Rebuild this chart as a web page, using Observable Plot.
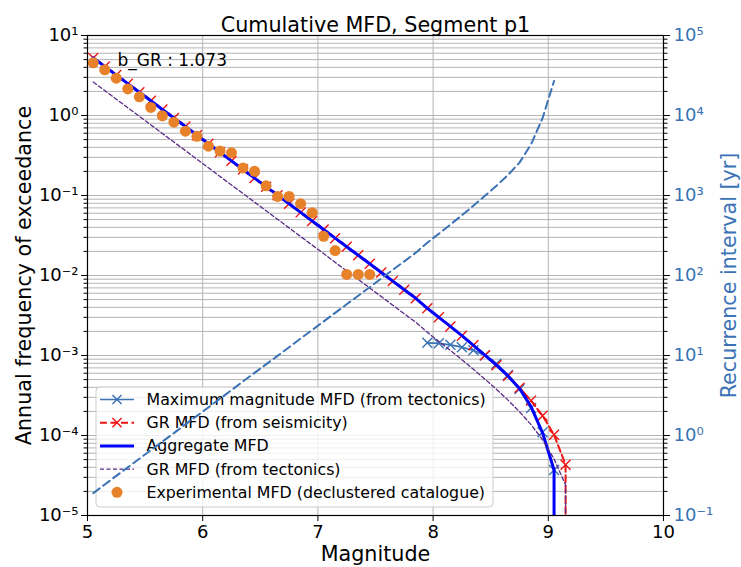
<!DOCTYPE html>
<html><head><meta charset="utf-8">
<script src="https://cdn.jsdelivr.net/npm/d3@7"></script>
<script src="https://cdn.jsdelivr.net/npm/@observablehq/plot@0.6"></script>
<style>body{margin:0;background:#fff} svg{font-family:"DejaVu Sans",sans-serif}</style>
</head><body><div id="chart"></div>
<script>
// ---------- data ----------
const title = "Cumulative MFD, Segment p1";
const xLabel = "Magnitude";
const yLabelLeft = "Annual frequency of exceedance";
const yLabelRight = "Recurrence interval [yr]";
const bText = "b_GR : 1.073";

const magnitudes = [5.05,5.15,5.25,5.35,5.45,5.55,5.65,5.75,5.85,5.95,6.05,6.15,6.25,6.35,6.45,6.55,6.65,6.75,6.85,6.95,7.05,7.15,7.25,7.35,7.45,7.55,7.65,7.75,7.85,7.95,8.05,8.15,8.25,8.35,8.45,8.55,8.65,8.75,8.85,8.95,9.05,9.15];

// GR MFD (from seismicity) – 42 values
const grSeismicity = [5.25,4.10,3.20,2.50,1.95,1.53,1.19,0.931,0.727,0.568,0.444,0.347,0.271,0.211,0.165,0.129,0.101,0.0787,0.0615,0.0480,0.0375,0.0293,0.0229,0.0179,0.0140,0.0109,0.00851,0.00665,0.00519,0.00389,0.00300,0.00231,0.00177,0.00134,0.00101,0.000756,0.000554,0.000396,0.000273,0.000177,0.000102,0.000043];

// GR MFD (from tectonics) – 42 values
const grTectonics = [2.62,2.05,1.60,1.25,0.977,0.763,0.596,0.466,0.364,0.284,0.222,0.173,0.135,0.106,0.0826,0.0645,0.0504,0.0394,0.0307,0.0240,0.0188,0.0146,0.0114,0.00894,0.00698,0.00545,0.00426,0.00332,0.00260,0.00195,0.00150,0.00116,0.000885,0.000672,0.000507,0.000378,0.000277,0.000198,0.000137,0.0000885,0.0000510,0.0000240];

// Aggregate MFD – 41 values (5.05 .. 9.05)
const aggregate = [5.25,4.10,3.20,2.50,1.95,1.53,1.19,0.931,0.727,0.568,0.444,0.347,0.271,0.211,0.165,0.129,0.101,0.0787,0.0615,0.0480,0.0375,0.0293,0.0229,0.0179,0.0140,0.0109,0.00851,0.00665,0.00519,0.00389,0.00300,0.00231,0.00177,0.00134,0.00101,0.000756,0.000556,0.000388,0.000230,0.000108,0.000037];

// Recurrence interval [yr] – 41 values (5.05 .. 9.05)
const recurrence = [0.190,0.244,0.313,0.400,0.513,0.654,0.840,1.07,1.38,1.76,2.25,2.88,3.69,4.74,6.06,7.75,9.90,12.7,16.3,20.8,26.7,34.1,43.7,55.9,71.4,91.7,118,150,193,257,333,433,565,746,990,1323,1805,2577,4348,9259,27027];

// Maximum magnitude MFD (from tectonics)
const maxMagMags = [7.95,8.05,8.15,8.25,8.35,8.45,8.55,8.65,8.75,8.85,8.95,9.05];
const maxMagValues = [0.00144,0.00142,0.00136,0.00127,0.00116,0.00100,0.00079,0.00057,0.00038,0.00022,0.00011,0.000037];

// Experimental MFD (declustered catalogue)
const expMags = [5.05,5.15,5.25,5.35,5.45,5.55,5.65,5.75,5.85,5.95,6.05,6.15,6.25,6.35,6.45,6.55,6.65,6.75,6.85,6.95,7.05,7.15,7.25,7.35,7.45];
const expValues = [4.56,3.73,2.93,2.15,1.71,1.26,0.99,0.826,0.637,0.55,0.414,0.36,0.342,0.221,0.201,0.132,0.0975,0.0975,0.079,0.061,0.0309,0.0205,0.0103,0.0103,0.0103];

const xTicks = [5,6,7,8,9,10];
const xGrid = [6,7,8,9];
const leftExponents = [-5,-4,-3,-2,-1,0,1];
const RIGHT_SHIFT = 1e4;   // right axis (10^-1..10^5) = left axis (10^-5..10^1) x 1e4
const ZERO_RATE = 1e-9;    // rate beyond Mmax (drops off the log axis)

const legendLabels = ["Maximum magnitude MFD (from tectonics)","GR MFD (from seismicity)","Aggregate MFD","GR MFD (from tectonics)","Experimental MFD (declustered catalogue)"];

// ---------- colours ----------
const C_STEEL = "#3a72b5", C_RED = "#f01414", C_BLUE = "#0000ff", C_PURPLE = "#5a2a88", C_ORANGE = "#e8822a";
const REC_DASH = "8,4.5";

// ---------- derived tables ----------
const grData = magnitudes.map((m,i)=>({m, v: grSeismicity[i]}));
const grLine = grData.concat([{m: magnitudes[magnitudes.length-1], v: ZERO_RATE}]);
const tectLine = magnitudes.map((m,i)=>({m, v: grTectonics[i]})).concat([{m: magnitudes[magnitudes.length-1], v: ZERO_RATE}]);
const aggLine = aggregate.map((v,i)=>({m: magnitudes[i], v})).concat([{m: magnitudes[aggregate.length-1], v: ZERO_RATE}]);
const recData = recurrence.map((yr,i)=>({m: magnitudes[i], yr}));
const maxMagData = maxMagMags.map((m,i)=>({m, v: maxMagValues[i]}));
const expData = expMags.map((m,i)=>({m, v: expValues[i]}));

const yMajor = leftExponents.map(e=>10**e);
const yMinor = [];
for (const e of leftExponents.slice(0,-1)) for (let k=2;k<=9;k++) yMinor.push(k*10**e);

const SUP = {"-":"\u207B","0":"\u2070","1":"\u00B9","2":"\u00B2","3":"\u00B3","4":"\u2074","5":"\u2075","6":"\u2076","7":"\u2077","8":"\u2078","9":"\u2079"};
const pow10 = e => "10" + String(e).split("").map(c=>SUP[c]).join("");
const leftFmt = v => pow10(Math.round(Math.log10(v)));
const rightFmt = v => pow10(Math.round(Math.log10(v*RIGHT_SHIFT)));

const chart = Plot.plot({
  width: 741, height: 567,
  marginLeft: 87, marginRight: 78, marginTop: 35, marginBottom: 52,
  x: {domain: [5,10]},
  y: {type: "log", domain: [1e-5, 10]},
  style: {fontFamily: "DejaVu Sans, sans-serif", fontSize: "18px", color: "black", background: "white"},
  marks: [
    Plot.gridY(yMinor.concat(yMajor), {stroke: "#b4b4b4", strokeOpacity: 1, strokeWidth: 1}),
    Plot.gridX(xGrid, {stroke: "#b4b4b4", strokeOpacity: 1, strokeWidth: 1}),
    Plot.line(maxMagData, {x: "m", y: "v", stroke: C_STEEL, strokeWidth: 1.7}),
    Plot.dot(maxMagData, {x: "m", y: "v", symbol: "times", r: 4.6, stroke: C_STEEL, strokeWidth: 1.4}),
    Plot.line(grLine, {x: "m", y: "v", stroke: C_RED, strokeWidth: 2, strokeDasharray: "7,3.5", clip: true}),
    Plot.dot(grData, {x: "m", y: "v", symbol: "times", r: 4.6, stroke: C_RED, strokeWidth: 1.4}),
    Plot.line(aggLine, {x: "m", y: "v", stroke: C_BLUE, strokeWidth: 3, clip: true}),
    Plot.line(tectLine, {x: "m", y: "v", stroke: C_PURPLE, strokeWidth: 1.3, strokeDasharray: "4,2.5", clip: true}),
    Plot.dot(expData, {x: "m", y: "v", r: 5.5, fill: C_ORANGE}),
    Plot.line(recData, {x: "m", y: d => d.yr / RIGHT_SHIFT, stroke: C_STEEL, strokeWidth: 2, strokeDasharray: REC_DASH}),
    Plot.frame({stroke: "black", strokeWidth: 1.2}),
    Plot.axisX(xTicks, {tickSize: 6, tickPadding: 4, tickFormat: d => String(d), label: null, fontSize: 18}),
    Plot.axisY(yMajor, {anchor: "left", tickSize: 6, tickPadding: 3, tickFormat: leftFmt, label: null, fontSize: 18}),
    Plot.axisY(yMinor, {anchor: "left", tickSize: 3.5, tickFormat: () => "", label: null}),
    Plot.axisY(yMajor, {anchor: "right", tickSize: 6, tickPadding: 4, tickFormat: rightFmt, label: null, fontSize: 18, stroke: "black", fill: C_STEEL}),
    Plot.axisY(yMinor, {anchor: "right", tickSize: 3.5, tickFormat: () => "", label: null, stroke: "black"}),
    Plot.text([bText], {text: d => d, frameAnchor: "top-left", dx: 30, dy: 18, textAnchor: "start", fontSize: 17}),
    Plot.text([title], {text: d => d, frameAnchor: "top", dy: -18, textAnchor: "middle", fontSize: 20.7}),
    Plot.text([xLabel], {text: d => d, frameAnchor: "bottom", dy: 45, textAnchor: "middle", fontSize: 20.7}),
    Plot.text([yLabelLeft], {text: d => d, frameAnchor: "left", dx: -63, rotate: -90, textAnchor: "middle", fontSize: 20.7}),
    Plot.text([yLabelRight], {text: d => d, frameAnchor: "right", dx: 66, rotate: -90, textAnchor: "middle", fontSize: 20.7, fill: C_STEEL})
  ]
});
document.getElementById("chart").appendChild(chart);

// ---------- legend (drawn under the recurrence curve, like the twin axis) ----------
const svg = d3.select(chart);
const recNode = svg.selectAll("g").filter(function() { return this.getAttribute("stroke-dasharray") === REC_DASH; }).node();
const lg = d3.select(chart.insertBefore(document.createElementNS("http://www.w3.org/2000/svg", "g"), recNode || null))
  .attr("class", "legend").attr("text-anchor", "start");
const LX = 96, LY = 387, LW = 397, LH = 120, ROW0 = 399.5, ROWH = 23.2, H0 = 100, H1 = 134, TX = 146.5;
lg.append("rect").attr("x", LX).attr("y", LY).attr("width", LW).attr("height", LH).attr("rx", 4)
  .attr("fill", "white").attr("fill-opacity", 0.8).attr("stroke", "#cccccc").attr("stroke-width", 1);
const timesPath = (cx, cy, h) => `M${cx-h},${cy-h}L${cx+h},${cy+h}M${cx-h},${cy+h}L${cx+h},${cy-h}`;
legendLabels.forEach((label, i) => {
  const y = ROW0 + i * ROWH, cx = (H0 + H1) / 2;
  if (i === 0) {
    lg.append("line").attr("x1", H0).attr("x2", H1).attr("y1", y).attr("y2", y).attr("stroke", C_STEEL).attr("stroke-width", 1.7);
    lg.append("path").attr("d", timesPath(cx, y, 4.6)).attr("stroke", C_STEEL).attr("stroke-width", 1.4).attr("fill", "none");
  } else if (i === 1) {
    lg.append("line").attr("x1", H0).attr("x2", H1).attr("y1", y).attr("y2", y).attr("stroke", C_RED).attr("stroke-width", 2).attr("stroke-dasharray", "7,3.5");
    lg.append("path").attr("d", timesPath(cx, y, 4.6)).attr("stroke", C_RED).attr("stroke-width", 1.4).attr("fill", "none");
  } else if (i === 2) {
    lg.append("line").attr("x1", H0).attr("x2", H1).attr("y1", y).attr("y2", y).attr("stroke", C_BLUE).attr("stroke-width", 3);
  } else if (i === 3) {
    lg.append("line").attr("x1", H0).attr("x2", H1).attr("y1", y).attr("y2", y).attr("stroke", C_PURPLE).attr("stroke-width", 1.3).attr("stroke-dasharray", "4,2.5");
  } else {
    lg.append("circle").attr("cx", cx).attr("cy", y).attr("r", 5.5).attr("fill", C_ORANGE);
  }
  lg.append("text").attr("x", TX).attr("y", y).attr("dy", "0.35em").attr("font-size", 15.8)
    .attr("text-anchor", "start").attr("fill", "black").text(label);
});
</script>
</body></html>
